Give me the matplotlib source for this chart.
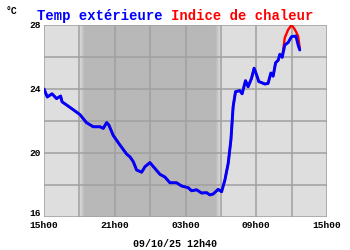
import numpy as np
import matplotlib
matplotlib.use("Agg")
import matplotlib.pyplot as plt
import matplotlib.transforms as mtransforms
from matplotlib.colors import LinearSegmentedColormap

# hours since 15h00 on the previous day
hours = [0.0, 0.28, 0.68, 1.07, 1.41, 1.53, 1.92, 2.49, 3.05, 3.6, 4.18, 4.75,
         5.03, 5.31, 5.5, 5.87, 6.44, 7.0, 7.3, 7.57, 7.85, 8.28, 8.56, 8.98,
         9.4, 9.83, 10.25, 10.68, 11.24, 11.67, 12.23, 12.51, 12.94, 13.36,
         13.79, 14.07, 14.35, 14.77, 15.06, 15.34, 15.62, 15.85, 16.04, 16.24,
         16.6, 16.8, 17.09, 17.31, 17.6, 17.82, 18.02, 18.22, 18.45, 18.73,
         19.0, 19.24, 19.43, 19.64, 19.86, 20.0, 20.2, 20.42, 20.7, 20.99,
         21.2, 21.36, 21.55, 21.69]
temp = [24.0, 23.5, 23.7, 23.4, 23.56, 23.2, 23.0, 22.7, 22.4, 21.9, 21.64,
        21.64, 21.54, 21.9, 21.75, 21.1, 20.5, 19.94, 19.75, 19.46, 18.94,
        18.8, 19.14, 19.4, 19.04, 18.67, 18.5, 18.14, 18.14, 17.94, 17.83,
        17.64, 17.7, 17.5, 17.52, 17.38, 17.44, 17.73, 17.58, 18.31, 19.35,
        20.8, 22.9, 23.83, 23.9, 23.7, 24.52, 24.14, 24.67, 25.3, 24.9, 24.46,
        24.4, 24.31, 24.35, 25.0, 24.8, 25.64, 25.8, 26.17, 25.98, 26.75, 26.9,
        27.27, 27.3, 27.31, 26.75, 26.44]
# heat index follows the temperature except for the last part of the day
heat_tail = [27.2, 27.7, 28.0, 27.8, 27.6, 27.3, 26.55]
heat = temp[:-len(heat_tail)] + heat_tail

xticks = [0, 6, 12, 18, 24]
xlabels = ["15h00", "21h00", "03h00", "09h00", "15h00"]
yticks = [16, 20, 24, 28]
night = (3.0, 15.0)

mono = "Liberation Mono"
light = "#dedede"
dark = "#b8b8b8"

fig = plt.figure(figsize=(3.5, 2.5), dpi=100)
ax = fig.add_axes([0.1257, 0.132, 0.8086, 0.768])
ax.set_facecolor(light)

# night shading with soft edges
n = 240
ramp = np.ones(n)
edge = int(n * 0.5 / (night[1] - night[0]))
ramp[:edge] = np.linspace(0, 1, edge)
ramp[-edge:] = np.linspace(1, 0, edge)
cmap = LinearSegmentedColormap.from_list("night", [light, dark])
ax.imshow(ramp[np.newaxis, :], extent=[night[0], night[1], 16, 28],
          aspect="auto", cmap=cmap, vmin=0, vmax=1, zorder=0)

ax.set_xlim(0, 24)
ax.set_ylim(16, 28)
ax.set_xticks(xticks)
ax.set_xticklabels(xlabels)
ax.set_xticks(np.arange(0, 25, 3), minor=True)
ax.set_yticks(yticks)
ax.set_yticks([18, 22, 26], minor=True)
ax.grid(True, which="both", color="#a0a0a0", linewidth=1.1, zorder=1)
ax.set_axisbelow(False)
ax.tick_params(which="both", length=0, labelsize=6.8, pad=2)
ax.tick_params(axis="x", pad=3)
for lab in ax.get_xticklabels() + ax.get_yticklabels():
    lab.set_fontfamily(mono)
    lab.set_fontweight("bold")
# lift the bottom y label so it sits above the first x label
lift = mtransforms.ScaledTranslation(0, 3.5 / 72, fig.dpi_scale_trans)
low = ax.get_yticklabels()[0]
low.set_transform(low.get_transform() + lift)
for s in ax.spines.values():
    s.set_visible(False)

ax.plot(hours, heat, color="#ff0000", linewidth=1.7, zorder=3,
        solid_capstyle="round")
ax.plot(hours, temp, color="#0000ff", linewidth=2.1, zorder=4,
        solid_capstyle="round")

fig.text(0.015, 0.975, "°C", fontsize=7, fontfamily=mono, fontweight="bold",
         va="top", ha="left")
fig.text(0.107, 0.965, "Temp extérieure", fontsize=10, fontfamily=mono,
         fontweight="bold", color="#0000ff", va="top", ha="left")
fig.text(0.488, 0.965, "Indice de chaleur", fontsize=10, fontfamily=mono,
         fontweight="bold", color="#ff0000", va="top", ha="left")
fig.text(0.5, 0.025, "09/10/25 12h40", fontsize=7.2, fontfamily=mono,
         fontweight="bold", ha="center", va="center")

fig.savefig("out.png", dpi=100, facecolor="white")
